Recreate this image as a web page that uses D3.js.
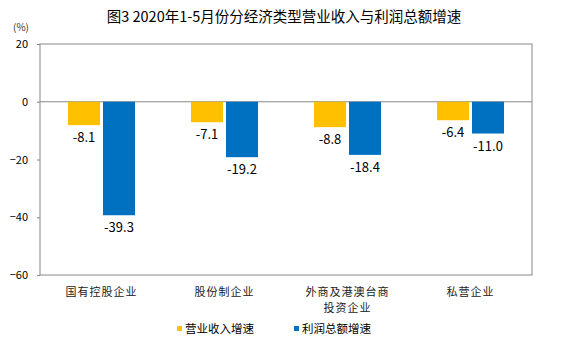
<!DOCTYPE html>
<html><head><meta charset="utf-8">
<script src="https://cdn.jsdelivr.net/npm/d3@7"></script>
<style>body{margin:0;background:#fff;} text{font-family:"Noto Sans CJK SC","Liberation Sans",sans-serif;}</style>
</head><body>
<svg id="c" width="568" height="347"></svg>
<script>
const title = "图3 2020年1-5月份分经济类型营业收入与利润总额增速";
const categories = [["国有控股企业"],["股份制企业"],["外商及港澳台商","投资企业"],["私营企业"]];
const seriesNames = ["营业收入增速","利润总额增速"];
const revenueGrowth = [-8.1,-7.1,-8.8,-6.4];
const profitGrowth = [-39.3,-19.2,-18.4,-11.0];
const yTicks = [20,0,-20,-40,-60];
const colors = ["#FFC000","#0070C0"];

const svg = d3.select("#c");
const L=40,R=532,T=44,B=275;
const x = d3.scaleBand().domain(d3.range(categories.length)).range([L,R]);
const y = d3.scaleLinear().domain([-60,20]).range([B,T]);
const barW = 32, gap = 3;

svg.append("text").attr("x",284).attr("y",22).attr("text-anchor","middle")
  .attr("font-size",14.5).attr("fill","#000").text(title);
svg.append("text").attr("x",13).attr("y",31).attr("font-size",10).attr("fill","#333").text("(%)");

svg.append("rect").attr("x",L).attr("y",T).attr("width",R-L).attr("height",B-T)
  .attr("fill","none").attr("stroke","#888").attr("stroke-width",1);

const yAxis = d3.axisLeft(y).tickValues(yTicks).tickSize(3).tickFormat(d3.format("d"));
const ga = svg.append("g").attr("transform",`translate(${L},0)`).call(yAxis);
ga.select(".domain").remove();
ga.selectAll(".tick line").attr("stroke","#888");
ga.selectAll(".tick text").attr("x",-12).attr("font-size",11).attr("fill","#000").attr("font-family","Liberation Sans, sans-serif");

svg.append("line").attr("x1",L).attr("x2",R).attr("y1",y(0)).attr("y2",y(0)).attr("stroke","#888");

const series=[revenueGrowth,profitGrowth];
series.forEach((vals,si)=>{
  vals.forEach((v,i)=>{
    const cx = x(i)+x.bandwidth()/2;
    const bx = si===0 ? cx-gap/2-barW : cx+gap/2;
    svg.append("rect").attr("x",bx).attr("y",y(0)).attr("width",barW)
      .attr("height",y(v)-y(0)).attr("fill",colors[si]);
    svg.append("text").attr("x",bx+barW/2).attr("y",y(v)+17).attr("text-anchor","middle")
      .attr("font-size",13).attr("fill","#000").attr("font-family","Liberation Sans, sans-serif")
      .text(v.toFixed(1));
  });
});

categories.forEach((lines,i)=>{
  const cx = x(i)+x.bandwidth()/2;
  lines.forEach((t,k)=>{
    svg.append("text").attr("x",cx).attr("y",296+k*16).attr("text-anchor","middle")
      .attr("font-size",11).attr("fill","#222").attr("letter-spacing",1).text(t);
  });
});

const legX=[177,294];
seriesNames.forEach((n,si)=>{
  svg.append("rect").attr("x",legX[si]).attr("y",326).attr("width",5).attr("height",5).attr("fill",colors[si]);
  svg.append("text").attr("x",legX[si]+8).attr("y",333).attr("font-size",11.5).attr("fill","#000").text(n);
});
</script>
</body></html>
